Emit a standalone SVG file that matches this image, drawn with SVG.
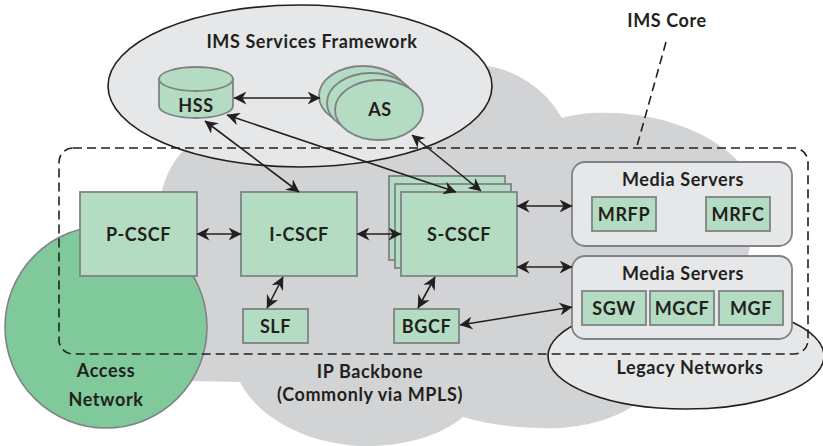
<svg xmlns="http://www.w3.org/2000/svg" width="823" height="446" viewBox="0 0 823 446">
  <defs>
    <style>
      .lbl { font-family: Lato, "Open Sans", "DejaVu Sans", sans-serif; font-weight: 700; font-size: 18px; letter-spacing: 0.6px; fill: #231f20; text-anchor: middle; }
      .box { fill: #b3dcc2; stroke: #808285; stroke-width: 1.8; }
      .panel { fill: #e6e7e8; stroke: #808285; stroke-width: 1.8; }
      .zone { fill: #e6e7e8; stroke: #231f20; stroke-width: 1.6; }
      .cloud { fill: #d1d3d4; stroke: none; }
      .link { fill: none; stroke: #231f20; stroke-width: 1.6; marker-start: url(#ah); marker-end: url(#ah); }
      .dash { fill: none; stroke: #231f20; stroke-width: 1.6; stroke-dasharray: 9 5; }
    </style>
    <marker id="ah" viewBox="0 0 13 13" refX="12.5" refY="6.5" markerWidth="13" markerHeight="13" markerUnits="userSpaceOnUse" orient="auto-start-reverse">
      <path d="M0,0 L13,6.5 L0,13 L4,6.5 Z" fill="#231f20"/>
    </marker>
  </defs>

  <rect width="823" height="446" fill="#ffffff"/>

  <!-- IP backbone cloud -->
  <g id="ip-backbone">
    <path class="cloud" d="M158,232 C157,200 164,170 184,150 L300,110 L420,70 L480,65
      A105,105 0 0 1 562,118
      C600,106 690,112 737,160
      C752,176 756,230 748,255
      L740,300 L700,350 L633,406
      C610,422 570,430 540,428
      C510,427 485,424 463,417
      C440,436 405,446 367,446
      C320,446 262,425 240,382
      L190,381 L150,330 Z"/>
    <text class="lbl" x="370" y="378">IP Backbone</text>
    <text class="lbl" x="370" y="401">(Commonly via MPLS)</text>
  </g>

  <!-- Services framework -->
  <g id="services-framework">
    <ellipse class="zone" cx="300" cy="86" rx="192" ry="81"/>
    <text class="lbl" x="312" y="48">IMS Services Framework</text>
  </g>

  <!-- Access network -->
  <g id="access-network">
    <circle cx="106" cy="327" r="101" fill="#7fc99b" stroke="#808285" stroke-width="1.6"/>
    <text class="lbl" x="106" y="377">Access</text>
    <text class="lbl" x="106" y="406">Network</text>
  </g>

  <!-- Legacy networks -->
  <g id="legacy-networks">
    <ellipse class="zone" cx="686" cy="356" rx="138" ry="53"/>
    <text class="lbl" x="690" y="374">Legacy Networks</text>
  </g>

  <g id="hss">
    <path class="box" d="M159,79 L159,106 A37,12 0 0 0 233,106 L233,79 Z"/>
    <ellipse class="box" cx="196" cy="79" rx="37" ry="12"/>
    <text class="lbl" x="196" y="112">HSS</text>
  </g>

  <g id="as">
    <ellipse class="box" cx="363" cy="96" rx="44" ry="30"/>
    <ellipse class="box" cx="371" cy="103" rx="44" ry="30"/>
    <ellipse class="box" cx="379" cy="110" rx="44" ry="30"/>
    <text class="lbl" x="380" y="116">AS</text>
  </g>

  <g id="p-cscf">
    <rect class="box" x="80" y="192" width="117" height="84"/>
    <text class="lbl" x="138.5" y="241">P-CSCF</text>
  </g>

  <g id="i-cscf">
    <rect class="box" x="241" y="192" width="116" height="84"/>
    <text class="lbl" x="299" y="241">I-CSCF</text>
  </g>

  <g id="s-cscf">
    <rect class="box" x="389" y="176" width="116" height="84"/>
    <rect class="box" x="395" y="184" width="116" height="84"/>
    <rect class="box" x="401" y="192" width="116" height="84"/>
    <text class="lbl" x="459" y="241">S-CSCF</text>
  </g>

  <g id="slf">
    <rect class="box" x="243" y="309" width="65" height="34"/>
    <text class="lbl" x="275.5" y="332.5">SLF</text>
  </g>

  <g id="bgcf">
    <rect class="box" x="394" y="309" width="65" height="34"/>
    <text class="lbl" x="426.5" y="332.5">BGCF</text>
  </g>

  <g id="media-servers-1">
    <rect class="panel" x="572" y="162" width="220" height="84" rx="13"/>
    <text class="lbl" x="683" y="186">Media Servers</text>
    <rect class="box" x="592" y="197" width="64" height="34"/>
    <text class="lbl" x="624" y="220.5">MRFP</text>
    <rect class="box" x="706" y="197" width="64" height="34"/>
    <text class="lbl" x="738" y="220.5">MRFC</text>
  </g>

  <g id="media-servers-2">
    <rect class="panel" x="572" y="256" width="220" height="83" rx="13"/>
    <text class="lbl" x="683" y="280">Media Servers</text>
    <rect class="box" x="582" y="291" width="64" height="34"/>
    <text class="lbl" x="614" y="314.5">SGW</text>
    <rect class="box" x="650" y="291" width="64" height="34"/>
    <text class="lbl" x="682" y="314.5">MGCF</text>
    <rect class="box" x="719" y="291" width="64" height="34"/>
    <text class="lbl" x="751" y="314.5">MGF</text>
  </g>

  <!-- IMS core boundary -->
  <g id="ims-core">
    <rect class="dash" x="59" y="148" width="749" height="206" rx="14"/>
    <line class="dash" x1="666" y1="42" x2="637" y2="146"/>
    <text class="lbl" x="667" y="27">IMS Core</text>
  </g>

  <!-- Connectors -->
  <g id="connectors">
    <line class="link" x1="234" y1="98" x2="320" y2="98"/>
    <line class="link" x1="205" y1="121" x2="299" y2="192"/>
    <line class="link" x1="227" y1="115" x2="456" y2="192"/>
    <line class="link" x1="412" y1="135" x2="481" y2="191"/>
    <line class="link" x1="197" y1="234" x2="241" y2="234"/>
    <line class="link" x1="357" y1="234" x2="401" y2="234"/>
    <line class="link" x1="517" y1="206" x2="572" y2="206"/>
    <line class="link" x1="517" y1="267" x2="572" y2="267"/>
    <line class="link" x1="283" y1="277" x2="267" y2="308"/>
    <line class="link" x1="435" y1="277" x2="418" y2="308"/>
    <line class="link" x1="460" y1="325" x2="572" y2="307"/>
  </g>
</svg>
